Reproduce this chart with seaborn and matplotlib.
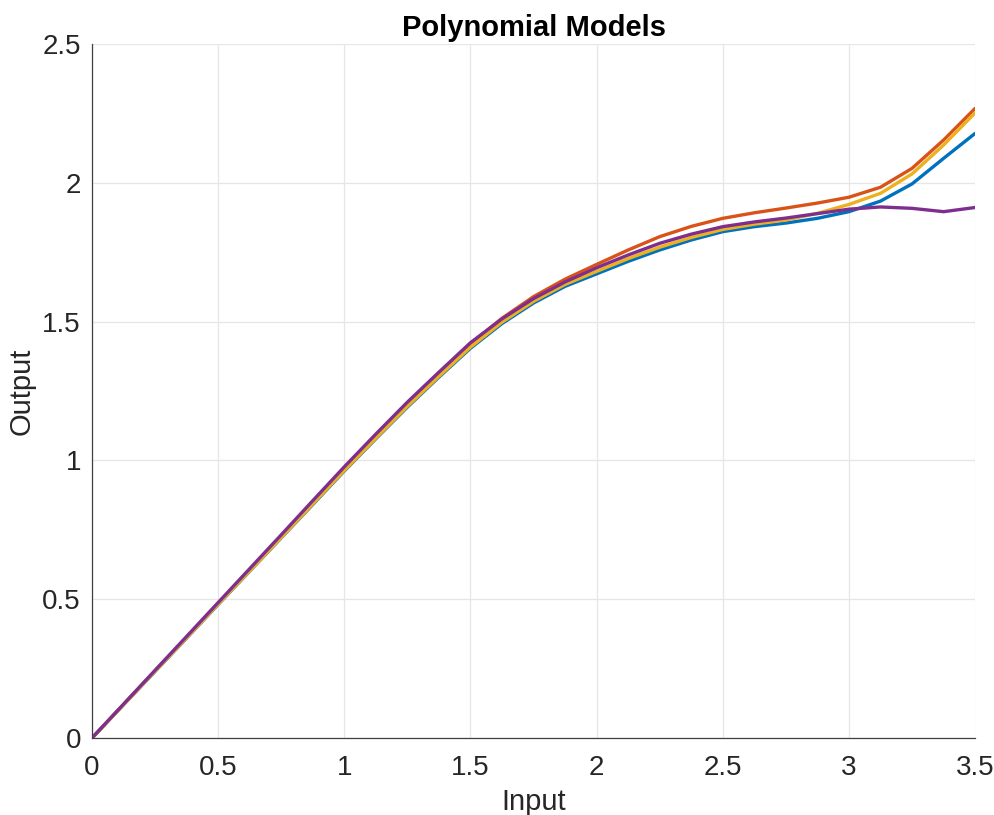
import numpy as np
import pandas as pd
import matplotlib
matplotlib.use("Agg")
import matplotlib.pyplot as plt
import seaborn as sns

# Sample inputs and model outputs
x_vals = [0.0, 0.125, 0.25, 0.375, 0.5, 0.625, 0.75, 0.875, 1.0, 1.125, 1.25,
          1.375, 1.5, 1.625, 1.75, 1.875, 2.0, 2.125, 2.25, 2.375, 2.5, 2.625,
          2.75, 2.875, 3.0, 3.125, 3.25, 3.375, 3.5]

model_a = [0.0, 0.120, 0.240, 0.360, 0.481, 0.601, 0.721, 0.841, 0.962, 1.078,
           1.192, 1.300, 1.404, 1.493, 1.567, 1.627, 1.672, 1.717, 1.758, 1.794,
           1.824, 1.842, 1.855, 1.872, 1.896, 1.934, 1.996, 2.088, 2.178]

model_b = [0.0, 0.121, 0.242, 0.363, 0.485, 0.606, 0.728, 0.851, 0.973, 1.090,
           1.205, 1.313, 1.420, 1.512, 1.590, 1.653, 1.706, 1.758, 1.806, 1.843,
           1.872, 1.892, 1.909, 1.927, 1.948, 1.984, 2.052, 2.154, 2.268]

model_c = [0.0, 0.120, 0.241, 0.361, 0.482, 0.602, 0.722, 0.843, 0.964, 1.080,
           1.195, 1.303, 1.408, 1.498, 1.573, 1.634, 1.681, 1.727, 1.768, 1.803,
           1.832, 1.851, 1.866, 1.890, 1.922, 1.962, 2.032, 2.136, 2.252]

model_d = [0.0, 0.122, 0.244, 0.366, 0.488, 0.610, 0.732, 0.855, 0.977, 1.095,
           1.210, 1.318, 1.424, 1.510, 1.583, 1.643, 1.694, 1.740, 1.782, 1.815,
           1.842, 1.859, 1.873, 1.889, 1.905, 1.913, 1.908, 1.896, 1.911]

models = ["A", "B", "C", "D"]
colors = ["#0072BD", "#D95319", "#EDB120", "#7E2F8E"]

x_ticks = [0, 0.5, 1, 1.5, 2, 2.5, 3, 3.5]
x_tick_labels = ["0", "0.5", "1", "1.5", "2", "2.5", "3", "3.5"]
y_ticks = [0, 0.5, 1, 1.5, 2, 2.5]
y_tick_labels = ["0", "0.5", "1", "1.5", "2", "2.5"]

df = pd.concat(
    [pd.DataFrame({"Input": x_vals, "Output": vals, "model": name})
     for name, vals in zip(models, [model_a, model_b, model_c, model_d])],
    ignore_index=True,
)

sns.set_style("white")
plt.rcParams["font.family"] = ["Liberation Sans", "DejaVu Sans"]

fig = plt.figure(figsize=(9.95, 8.15), dpi=100)
ax = fig.add_axes([0.0925, 0.0945, 0.8875, 0.8515])

sns.lineplot(data=df, x="Input", y="Output", hue="model", hue_order=models,
             palette=colors, linewidth=2.4, legend=False, sort=False, ax=ax,
             solid_joinstyle="round", solid_capstyle="round")

ax.set_xlim(0, 3.5)
ax.set_ylim(0, 2.5)
ax.set_xticks(x_ticks)
ax.set_xticklabels(x_tick_labels)
ax.set_yticks(y_ticks)
ax.set_yticklabels(y_tick_labels)

ax.grid(True, color="#e6e6e6", linewidth=0.9)
ax.set_axisbelow(True)

for side in ("top", "right"):
    ax.spines[side].set_visible(False)
for side in ("left", "bottom"):
    ax.spines[side].set_color("#404040")
    ax.spines[side].set_linewidth(0.9)

ax.tick_params(axis="both", direction="in", length=6, width=0.9,
               color="#404040", labelcolor="#262626", labelsize=20)
ax.tick_params(axis="x", pad=12)
ax.tick_params(axis="y", pad=8)

ax.set_xlabel("Input", fontsize=21, color="#262626", labelpad=5)
ax.set_ylabel("Output", fontsize=21, color="#262626", labelpad=5)
ax.set_title("Polynomial Models", fontsize=21, fontweight="bold",
             color="black", pad=6)

fig.savefig("out.png", dpi=100)
